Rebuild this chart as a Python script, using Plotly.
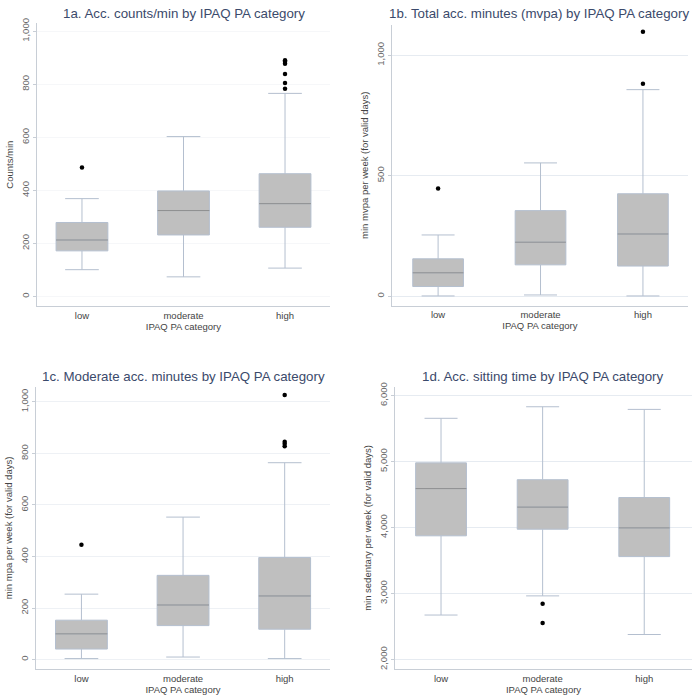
import plotly.graph_objects as go

categories = ["low", "moderate", "high"]

# Panel 1a: Acc. counts/min
a_q1 = [172, 232, 261]
a_med = [213, 324, 350]
a_q3 = [279, 398, 463]
a_lo = [101, 74, 107]
a_hi = [369, 603, 766]
a_out_x = ["low", "high", "high", "high", "high", "high", "high"]
a_out_y = [486, 783, 805, 839, 878, 885, 891]

# Panel 1b: Total acc. minutes (mvpa)
b_q1 = [40, 130, 125]
b_med = [97, 224, 258]
b_q3 = [155, 355, 425]
b_lo = [1, 5, 1]
b_hi = [254, 553, 857]
b_out_x = ["low", "high", "high"]
b_out_y = [447, 882, 1097]

# Panel 1c: Moderate acc. minutes
c_q1 = [41, 132, 118]
c_med = [100, 212, 247]
c_q3 = [153, 327, 396]
c_lo = [4, 10, 4]
c_hi = [254, 553, 764]
c_out_x = ["low", "high", "high", "high", "high"]
c_out_y = [446, 828, 838, 845, 1027]

# Panel 1d: Acc. sitting time
d_q1 = [3875, 3975, 3560]
d_med = [4590, 4310, 3995]
d_q3 = [4980, 4725, 4455]
d_lo = [2675, 2965, 2380]
d_hi = [5655, 5830, 5790]
d_out_x = ["moderate", "moderate"]
d_out_y = [2845, 2555]

titles = [
    "1a. Acc. counts/min by IPAQ PA category",
    "1b. Total acc. minutes (mvpa) by IPAQ PA category",
    "1c. Moderate acc. minutes by IPAQ PA category",
    "1d. Acc. sitting time by IPAQ PA category",
]
ytitles = [
    "Counts/min",
    "min mvpa per week (for valid days)",
    "min mpa per week (for valid days)",
    "min sedentary per week (for valid days)",
]
xtitle = "IPAQ PA category"

W, H = 695, 697

panels = [
    dict(q1=a_q1, med=a_med, q3=a_q3, lo=a_lo, hi=a_hi, ox=a_out_x, oy=a_out_y,
         px=(36.7, 330), py=(18, 304), xr=[-0.446, 2.443], yr=[-37.4, 1032],
         tv=[0, 200, 400, 600, 800, 1000], tt=["0", "200", "400", "600", "800", "1,000"],
         bw=0.51, ty=9, tx=184, grid="#f6f7f9"),
    dict(q1=b_q1, med=b_med, q3=b_q3, lo=b_lo, hi=b_hi, ox=b_out_x, oy=b_out_y,
         px=(391.7, 688), py=(20, 303.3), xr=[-0.453, 2.44], yr=[-39.5, 1126],
         tv=[0, 500, 1000], tt=["0", "500", "1,000"],
         bw=0.495, ty=9, tx=539, grid="#e6ebf1"),
    dict(q1=c_q1, med=c_med, q3=c_q3, lo=c_lo, hi=c_hi, ox=c_out_x, oy=c_out_y,
         px=(36, 330), py=(385, 670), xr=[-0.447, 2.446], yr=[-37.3, 1059],
         tv=[0, 200, 400, 600, 800, 1000], tt=["0", "200", "400", "600", "800", "1,000"],
         bw=0.51, ty=375, tx=183, grid="#eef1f5"),
    dict(q1=d_q1, med=d_med, q3=d_q3, lo=d_lo, hi=d_hi, ox=d_out_x, oy=d_out_y,
         px=(395, 692), py=(385, 670), xr=[-0.453, 2.47], yr=[1854, 6134],
         tv=[2000, 3000, 4000, 5000, 6000], tt=["2,000", "3,000", "4,000", "5,000", "6,000"],
         bw=0.50, ty=375, tx=543, grid="#e6ebf1"),
]

fig = go.Figure()
layout = dict(width=W, height=H, margin=dict(l=0, r=0, t=0, b=0),
              paper_bgcolor="white", plot_bgcolor="white", showlegend=False,
              font=dict(family="Liberation Sans, Arial, sans-serif"))
annotations = []
shapes = []

for i, p in enumerate(panels):
    n = "" if i == 0 else str(i + 1)
    xa, ya = "x" + n, "y" + n
    fig.add_trace(go.Box(
        x=categories, q1=p["q1"], median=p["med"], q3=p["q3"],
        lowerfence=p["lo"], upperfence=p["hi"],
        width=p["bw"], whiskerwidth=0.65,
        fillcolor="#bfbfbf", line=dict(color="#b4bfcf", width=1),
        boxpoints=False, hoverinfo="skip",
        xaxis=xa, yaxis=ya,
    ))
    fig.add_trace(go.Scatter(
        x=p["ox"], y=p["oy"], mode="markers",
        marker=dict(color="black", size=4.5),
        hoverinfo="skip", xaxis=xa, yaxis=ya,
    ))
    # darker median lines on top of boxes
    for k, m in enumerate(p["med"]):
        shapes.append(dict(type="line", xref=xa, yref=ya,
                           x0=k - p["bw"] / 2, x1=k + p["bw"] / 2, y0=m, y1=m,
                           line=dict(color="#8e8e8e", width=1), layer="above"))
    x0, x1 = p["px"]
    y0, y1 = p["py"]
    dom_x = [x0 / W, x1 / W]
    dom_y = [1 - y1 / H, 1 - y0 / H]
    layout["xaxis" + n] = dict(
        domain=dom_x, type="category", range=p["xr"], anchor=ya,
        showline=True, linecolor="#c8ced6", linewidth=1, mirror=False,
        ticks="", showgrid=False, zeroline=False,
        tickfont=dict(size=9.5, color="#444"),
        title=dict(text=xtitle, font=dict(size=9.5, color="#444"), standoff=0),
    )
    layout["yaxis" + n] = dict(
        domain=dom_y, range=p["yr"], anchor=xa,
        tickvals=p["tv"], ticktext=p["tt"], tickangle=-90,
        showline=True, linecolor="#c8ced6", linewidth=1,
        ticks="outside", ticklen=3, tickcolor="#c8ced6",
        showgrid=True, gridcolor=p["grid"], gridwidth=1, zeroline=False,
        tickfont=dict(size=9.5, color="#666"),
        title=dict(text=ytitles[i], font=dict(size=9.5, color="#444"), standoff=4),
    )
    annotations.append(dict(
        text=titles[i], x=p["tx"] / W, y=1 - p["ty"] / H,
        xref="paper", yref="paper", xanchor="center", yanchor="middle",
        showarrow=False, font=dict(size=13.3, color="#3b4a6b"),
    ))

layout["annotations"] = annotations
layout["shapes"] = shapes
fig.update_layout(**layout)
fig.write_html("out.html", config={"displayModeBar": False},
               post_script="document.body.style.margin='0';document.body.style.overflow='hidden';")
